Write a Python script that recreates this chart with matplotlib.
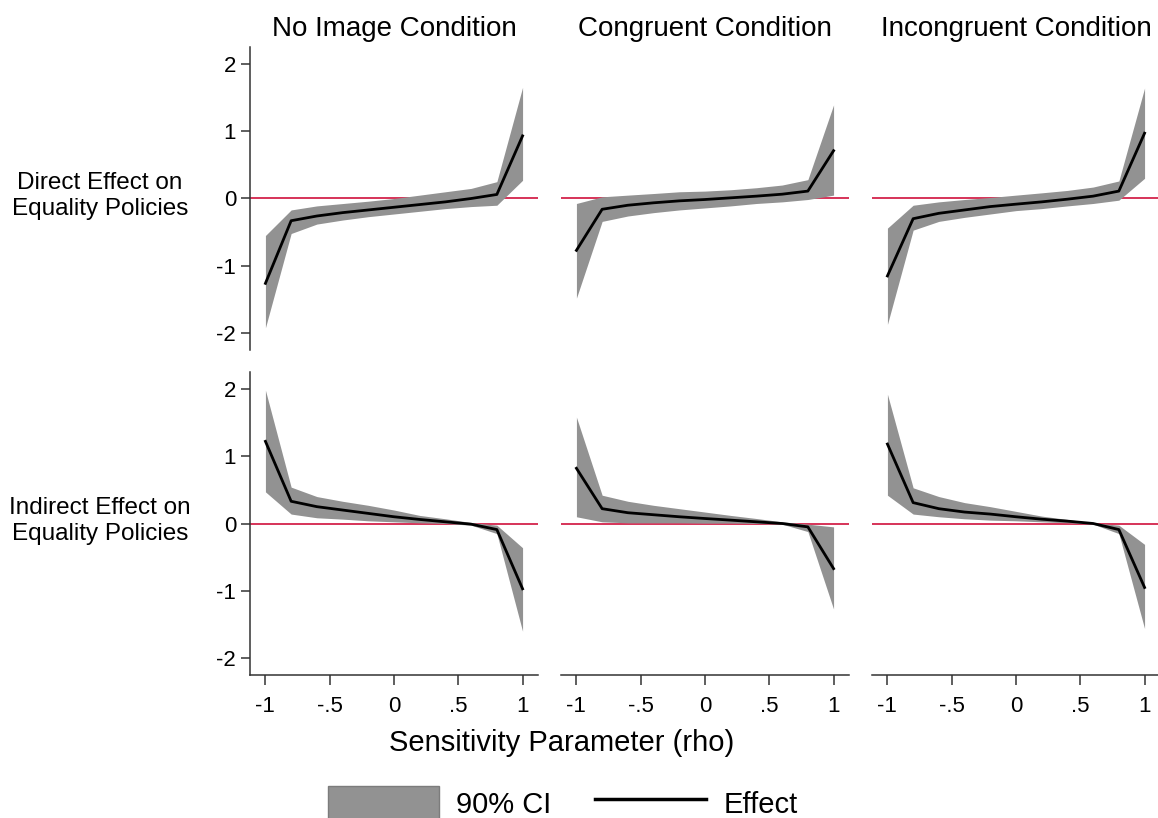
import matplotlib.pyplot as plt
from matplotlib.lines import Line2D
from matplotlib.patches import Patch

plt.rcParams["font.family"] = ["Liberation Sans", "DejaVu Sans"]

# sensitivity parameter grid
RHO = [-1, -0.8, -0.6, -0.4, -0.2, 0, 0.2, 0.4, 0.6, 0.8, 1]

CONDITIONS = ["No Image Condition", "Congruent Condition", "Incongruent Condition"]
ROW_LABELS = ["Direct Effect on\nEquality Policies", "Indirect Effect on\nEquality Policies"]

Y_TICKS = [2, 1, 0, -1, -2]
Y_TICKLABELS = ["2", "1", "0", "-1", "-2"]
X_TICKS = [-1, -0.5, 0, 0.5, 1]
X_TICKLABELS = ["-1", "-.5", "0", ".5", "1"]

# direct effect (top row)
DIR_NOIMG_EST = [-1.26, -0.33, -0.26, -0.21, -0.17, -0.13, -0.09, -0.05, 0.0, 0.06, 0.93]
DIR_NOIMG_LO = [-1.92, -0.52, -0.38, -0.32, -0.27, -0.23, -0.19, -0.15, -0.12, -0.10, 0.27]
DIR_NOIMG_HI = [-0.55, -0.17, -0.11, -0.075, -0.04, 0.0, 0.05, 0.10, 0.15, 0.25, 1.65]

DIR_CONG_EST = [-0.77, -0.16, -0.10, -0.064, -0.035, -0.015, 0.01, 0.035, 0.064, 0.11, 0.71]
DIR_CONG_LO = [-1.48, -0.34, -0.26, -0.21, -0.17, -0.14, -0.11, -0.074, -0.05, -0.015, 0.05]
DIR_CONG_HI = [-0.074, 0.025, 0.05, 0.074, 0.10, 0.11, 0.13, 0.16, 0.20, 0.28, 1.39]

DIR_INCONG_EST = [-1.15, -0.30, -0.22, -0.17, -0.12, -0.084, -0.05, -0.01, 0.035, 0.11, 0.97]
DIR_INCONG_LO = [-1.87, -0.47, -0.34, -0.28, -0.23, -0.18, -0.15, -0.11, -0.074, -0.025, 0.30]
DIR_INCONG_HI = [-0.44, -0.10, -0.05, -0.015, 0.015, 0.05, 0.084, 0.12, 0.17, 0.26, 1.64]

# indirect effect (bottom row)
IND_NOIMG_EST = [1.22, 0.33, 0.25, 0.20, 0.15, 0.10, 0.06, 0.025, -0.01, -0.09, -0.97]
IND_NOIMG_LO = [0.47, 0.14, 0.085, 0.065, 0.04, 0.025, 0.01, 0.0, -0.025, -0.15, -1.60]
IND_NOIMG_HI = [1.98, 0.54, 0.40, 0.33, 0.27, 0.20, 0.12, 0.07, 0.015, -0.025, -0.36]

IND_CONG_EST = [0.82, 0.22, 0.16, 0.13, 0.10, 0.074, 0.05, 0.025, 0.0, -0.05, -0.67]
IND_CONG_LO = [0.10, 0.025, 0.01, 0.01, 0.01, 0.005, 0.005, 0.0, -0.01, -0.12, -1.27]
IND_CONG_HI = [1.58, 0.42, 0.33, 0.27, 0.22, 0.17, 0.12, 0.074, 0.025, -0.01, -0.05]

IND_INCONG_EST = [1.18, 0.31, 0.22, 0.17, 0.14, 0.10, 0.064, 0.035, 0.0, -0.09, -0.95]
IND_INCONG_LO = [0.42, 0.14, 0.10, 0.07, 0.05, 0.04, 0.025, 0.01, -0.01, -0.15, -1.56]
IND_INCONG_HI = [1.92, 0.53, 0.40, 0.31, 0.25, 0.18, 0.11, 0.06, 0.01, -0.025, -0.31]

PANELS = [
    [(DIR_NOIMG_EST, DIR_NOIMG_LO, DIR_NOIMG_HI),
     (DIR_CONG_EST, DIR_CONG_LO, DIR_CONG_HI),
     (DIR_INCONG_EST, DIR_INCONG_LO, DIR_INCONG_HI)],
    [(IND_NOIMG_EST, IND_NOIMG_LO, IND_NOIMG_HI),
     (IND_CONG_EST, IND_CONG_LO, IND_CONG_HI),
     (IND_INCONG_EST, IND_INCONG_LO, IND_INCONG_HI)],
]

BAND_COLOR = "#929292"
ZERO_COLOR = "#d0103c"
AXIS_COLOR = "#333333"

W, H = 1158, 818
fig = plt.figure(figsize=(W / 100, H / 100), dpi=100)

col_left = [250, 561, 872]
col_width = 288
row_top = [47, 372]
row_height = 303

for r in range(2):
    for c in range(3):
        est, lo, hi = PANELS[r][c]
        ax = fig.add_axes([col_left[c] / W, 1 - (row_top[r] + row_height) / H,
                           col_width / W, row_height / H])
        ax.axhline(0, color=ZERO_COLOR, linewidth=1.2, zorder=1)
        ax.fill_between(RHO, lo, hi, color=BAND_COLOR, linewidth=0, zorder=2)
        ax.plot(RHO, est, color="black", linewidth=2.0, zorder=3)

        ax.set_xlim(-1.12, 1.12)
        ax.set_ylim(-2.25, 2.25)
        for side in ["top", "right"]:
            ax.spines[side].set_visible(False)
        ax.spines["left"].set_visible(c == 0)
        ax.spines["bottom"].set_visible(r == 1)
        for side in ["left", "bottom"]:
            ax.spines[side].set_color(AXIS_COLOR)
            ax.spines[side].set_linewidth(1.1)

        if c == 0:
            ax.set_yticks(Y_TICKS)
            ax.set_yticklabels(Y_TICKLABELS)
            ax.tick_params(axis="y", length=6.5, width=1.1, color=AXIS_COLOR,
                           labelsize=16, pad=3.5)
            fig.text(100 / W, 1 - (row_top[r] + 149) / H, ROW_LABELS[r],
                     ha="center", va="center", fontsize=17.5, linespacing=1.22)
        else:
            ax.set_yticks([])

        if r == 1:
            ax.set_xticks(X_TICKS)
            ax.set_xticklabels(X_TICKLABELS)
            ax.tick_params(axis="x", length=7, width=1.1, color=AXIS_COLOR,
                           labelsize=16, pad=8)
        else:
            ax.set_xticks([])
            ax.set_title(CONDITIONS[c], fontsize=20, pad=8)

fig.text(562 / W, 1 - 743 / H, "Sensitivity Parameter (rho)",
         ha="center", va="center", fontsize=21)

handles = [Patch(facecolor=BAND_COLOR, edgecolor="#7c7c7c", linewidth=1),
           Line2D([], [], color="black", linewidth=2.5)]
fig.legend(handles, ["90% CI", "Effect"], loc="center",
           bbox_to_anchor=(563 / W, 1 - 803 / H), ncol=2, frameon=False,
           fontsize=21, handlelength=3.8, handleheight=1.4, handletextpad=0.6,
           columnspacing=1.5)

fig.savefig("out.png", dpi=100)
